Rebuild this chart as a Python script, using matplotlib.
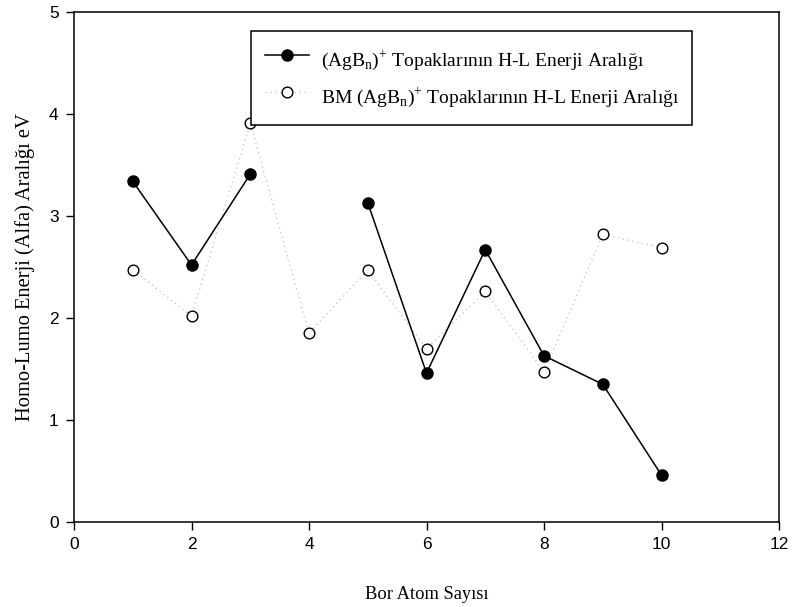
import numpy as np
import matplotlib.pyplot as plt

# Bor atom sayısı ve H-L enerji aralıkları (eV)
n_atoms = [1, 2, 3, 4, 5, 6, 7, 8, 9, 10]
gap_agbn = [3.34, 2.52, 3.41, np.nan, 3.13, 1.46, 2.67, 1.63, 1.35, 0.46]
gap_bm = [2.47, 2.02, 3.91, 1.85, 2.47, 1.70, 2.26, 1.47, 2.82, 2.69]

x_ticks = [0, 2, 4, 6, 8, 10, 12]
y_ticks = [0, 1, 2, 3, 4, 5]

serif = ["Liberation Serif", "DejaVu Serif"]
sans = ["Liberation Sans", "DejaVu Sans"]

W, H = 792, 607
L, R, T, B = 74, 779, 12, 522

fig = plt.figure(figsize=(W / 100, H / 100), dpi=100)
ax = fig.add_axes([L / W, 1 - B / H, (R - L) / W, (B - T) / H])

ax.plot(n_atoms, gap_agbn, color="black", lw=1.1, marker="o", ms=8,
        mfc="black", mec="black",
        label=r"(AgB$_\mathregular{n}$)$^\mathregular{+}$ Topaklarının H-L Enerji Aralığı",
        zorder=3)
ax.plot(n_atoms, gap_bm, color="#c8c8c8", lw=1.0, ls=(0, (1, 2.5)), marker="o", ms=7.7,
        mfc="white", mec="black", mew=1.0,
        label=r"BM (AgB$_\mathregular{n}$)$^\mathregular{+}$ Topaklarının H-L Enerji Aralığı",
        zorder=2)

ax.set_xlim(0, 12)
ax.set_ylim(0, 5)
ax.set_xticks(x_ticks)
ax.set_yticks(y_ticks)
ax.tick_params(direction="out", length=6, width=1, labelsize=12.5, pad=5)
for lbl in ax.get_xticklabels() + ax.get_yticklabels():
    lbl.set_family(sans)
for s in ax.spines.values():
    s.set_linewidth(1.1)

ax.set_xlabel("Bor Atom Sayısı", family=serif, fontsize=13.3, labelpad=24)
ax.set_ylabel("Homo-Lumo Enerji (Alfa) Aralığı eV", family=serif, fontsize=14.8, labelpad=10)

leg = ax.legend(loc="upper left", bbox_to_anchor=((251 - L) / (R - L), (B - 31) / (B - T)),
                prop={"family": serif, "size": 14}, frameon=True, fancybox=False,
                edgecolor="black", framealpha=1, handlelength=2.26, handleheight=2.05,
                borderpad=0.7, labelspacing=0.3, handletextpad=0.62, borderaxespad=0)
leg.get_frame().set_linewidth(1.1)
leg.set_zorder(5)

fig.savefig("out.png", dpi=100)
